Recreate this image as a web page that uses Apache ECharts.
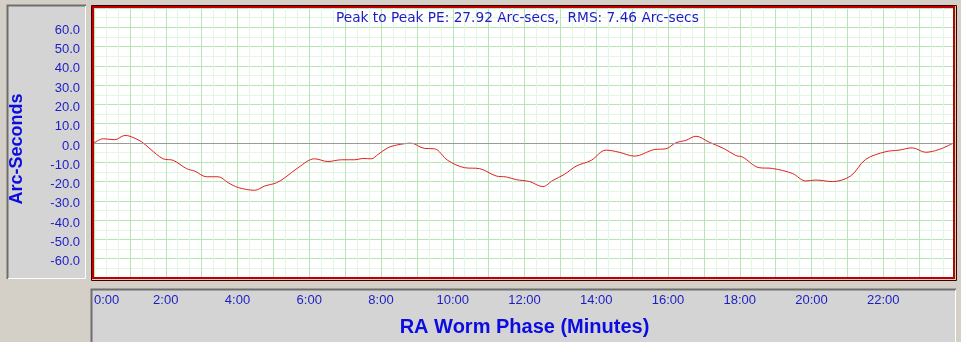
<!DOCTYPE html>
<html>
<head>
<meta charset="utf-8">
<title>RA Worm Phase</title>
<script src="https://cdn.jsdelivr.net/npm/echarts@6/dist/echarts.min.js"></script>
<style>
  html, body { margin: 0; padding: 0; background: #d4d0c8; }
  #main { width: 961px; height: 342px; }
</style>
</head>
<body>
<div id="main"></div>
<script>
// periodic error curve
const phaseMinutes = [
  0.00, 0.26, 0.58, 0.86, 1.00, 1.33, 1.56, 1.93, 2.21, 2.58, 2.81, 3.14, 3.46, 3.74,
  4.02, 4.48, 4.76, 5.09, 5.32, 5.69, 6.15, 6.52, 6.90, 7.27, 7.50, 7.73, 7.92, 8.19,
  8.43, 8.84, 9.21, 9.49, 9.86, 10.33, 10.75, 11.21, 11.49, 11.77, 12.14, 12.51, 12.79,
  13.11, 13.44, 13.86, 14.27, 14.64, 15.06, 15.62, 15.94, 16.22, 16.50, 16.78, 17.15,
  17.57, 17.89, 18.08, 18.54, 18.91, 19.47, 19.84, 20.12, 20.58, 21.09, 21.51, 22.07,
  22.44, 22.81, 23.18, 23.55, 23.97
];
const errorArcsec = [
  0.0, 2.2, 1.7, 3.9, 3.5, 0.6, -3.0, -8.2, -9.0, -13.3, -14.6, -17.5, -17.5, -20.6,
  -23.1, -24.5, -22.3, -20.6, -18.0, -12.8, -8.2, -9.6, -8.7, -8.7, -8.0, -8.2, -5.9, -2.5,
  -1.1, -0.1, -2.8, -3.0, -9.0, -12.8, -13.3, -17.1, -17.6, -19.0, -20.0, -22.6, -19.4,
  -16.3, -12.0, -9.0, -3.7, -4.8, -6.8, -3.4, -3.0, 0.1, 1.4, 3.5, 0.4,
  -3.0, -6.5, -7.3, -12.8, -13.2, -15.8, -19.7, -19.2, -20.0, -17.1, -8.5, -4.5,
  -3.7, -2.5, -4.8, -3.4, 0.1
];
const xTickLabels = ['0:00', '2:00', '4:00', '6:00', '8:00', '10:00', '12:00',
  '14:00', '16:00', '18:00', '20:00', '22:00'];
const yTickLabels = ['60.0', '50.0', '40.0', '30.0', '20.0', '10.0', '0.0',
  '-10.0', '-20.0', '-30.0', '-40.0', '-50.0', '-60.0'];
const titleText = 'Peak to Peak PE: 27.92 Arc-secs,  RMS: 7.46 Arc-secs';
const yAxisTitle = 'Arc-Seconds';
const xAxisTitle = 'RA Worm Phase (Minutes)';

const labelBlue = '#1c1cc4';
const nameBlue = '#0c0ce0';
const panelGrey = '#d4d4d4';

const points = phaseMinutes.map((m, i) => [m, errorArcsec[i]]);

// sunken panel, dark on top/left and white on bottom/right
function panel(x, y, w, h) {
  return [
    { type: 'rect', z: 0, shape: { x: x, y: y, width: w, height: h },
      style: { fill: panelGrey } },
    { type: 'polyline', z: 1, shape: { points: [[x + 0.5, y + h], [x + 0.5, y + 0.5], [x + w, y + 0.5]] },
      style: { stroke: '#6e6e6e', lineWidth: 2, fill: null } },
    { type: 'polyline', z: 1, shape: { points: [[x + 1, y + h - 0.5], [x + w - 0.5, y + h - 0.5], [x + w - 0.5, y + 1]] },
      style: { stroke: '#ffffff', lineWidth: 1, fill: null } }
  ];
}

const chart = echarts.init(document.getElementById('main'), null, { renderer: 'canvas' });

chart.setOption({
  backgroundColor: '#d4d0c8',
  animation: false,
  title: {
    text: titleText,
    left: 336,
    top: 11,
    padding: 0,
    textStyle: { color: labelBlue, fontFamily: 'DejaVu Sans', fontSize: 13.7, fontWeight: 'normal' }
  },
  grid: {
    left: 94, top: 8, right: 6, bottom: 63,
    show: true, backgroundColor: '#ffffff', borderWidth: 0
  },
  graphic: [].concat(
    panel(7, 5, 79, 274),
    panel(91, 289, 865, 60),
    [
      // plot frame
      { type: 'rect', z: 100, shape: { x: 93, y: 7, width: 861, height: 271 },
        style: { fill: null, stroke: '#c00000', lineWidth: 2 } },
      { type: 'rect', z: 100, shape: { x: 91.5, y: 5.5, width: 865, height: 275 },
        style: { fill: null, stroke: '#3a0000', lineWidth: 1 } },
      // rotated y axis title
      { type: 'text', z: 10, x: 17, y: 149, rotation: Math.PI / 2,
        style: { text: yAxisTitle, fill: nameBlue, fontFamily: 'Liberation Sans, Arial',
          fontSize: 18, fontWeight: 'bold', align: 'center', verticalAlign: 'middle' } }
    ]
  ),
  xAxis: {
    type: 'value',
    min: 0, max: 24, interval: 1,
    name: xAxisTitle,
    nameLocation: 'middle',
    nameGap: 39,
    nameTextStyle: { color: nameBlue, fontFamily: 'Liberation Sans, Arial', fontSize: 20, fontWeight: 'bold' },
    axisLine: { show: false },
    axisTick: { show: false },
    axisLabel: {
      margin: 16,
      color: labelBlue,
      fontFamily: 'Liberation Sans, Arial',
      fontSize: 13,
      alignMinLabel: 'left',
      showMaxLabel: false,
      formatter: v => (v % 2 === 0 && v / 2 < xTickLabels.length) ? xTickLabels[v / 2] : ''
    },
    splitLine: { show: true, lineStyle: { color: '#b6e6b6', width: 1 } },
    minorTick: { show: false, splitNumber: 3 },
    minorSplitLine: { show: true, lineStyle: { color: '#e3f5e3', width: 1 } }
  },
  yAxis: {
    type: 'value',
    min: -70, max: 70, interval: 10,
    axisLine: { show: false },
    axisTick: { show: false },
    axisLabel: {
      margin: 14,
      verticalAlign: 'top',
      lineHeight: 6,
      color: labelBlue,
      fontFamily: 'Liberation Sans, Arial',
      fontSize: 13,
      formatter: v => {
        const i = (60 - v) / 10;
        return (i >= 0 && i < yTickLabels.length) ? yTickLabels[i] : '';
      }
    },
    splitLine: { show: true, lineStyle: { color: '#b6e6b6', width: 1 } },
    minorTick: { show: false, splitNumber: 2 },
    minorSplitLine: { show: true, lineStyle: { color: '#e3f5e3', width: 1 } }
  },
  series: [{
    type: 'line',
    data: points,
    smooth: 0.35,
    symbol: 'none',
    lineStyle: { color: '#e02020', width: 1 },
    markLine: {
      silent: true,
      symbol: 'none',
      label: { show: false },
      lineStyle: { color: '#9a9a9a', type: 'solid', width: 1 },
      data: [{ yAxis: 0 }]
    }
  }]
});
</script>
</body>
</html>
